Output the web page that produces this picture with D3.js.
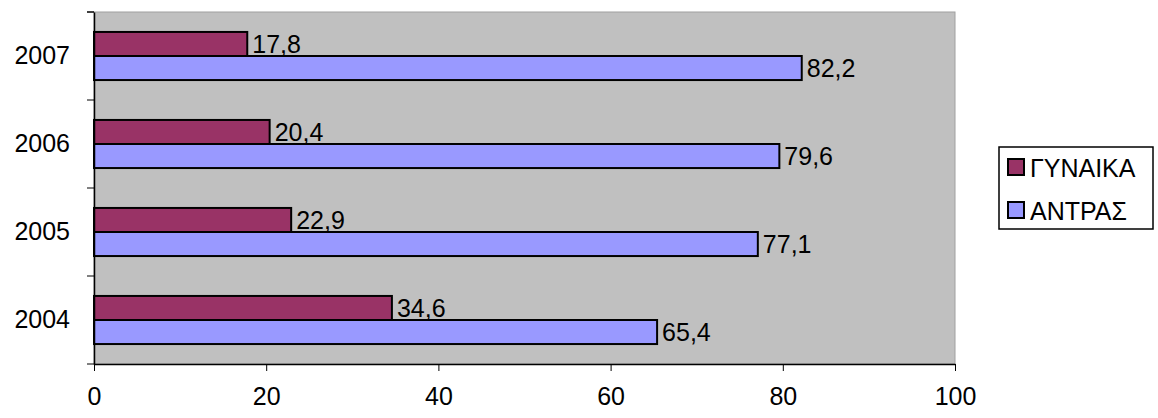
<!DOCTYPE html><html><head><meta charset="utf-8"><script src="https://cdn.jsdelivr.net/npm/d3@7"></script>
<style>body{margin:0;background:#fff}text{font-family:"Liberation Sans",Arial,sans-serif}</style></head><body><svg id="c" width="1158" height="418"></svg><script>
const years=["2004","2005","2006","2007"];
const women=[34.6,22.9,20.4,17.8];
const men=[65.4,77.1,79.6,82.2];
const xTicks=[0,20,40,60,80,100];
const series=[{name:"ΓΥΝΑΙΚΑ",vals:women,color:"#993366"},{name:"ΑΝΤΡΑΣ",vals:men,color:"#9999FF"}];
const svg=d3.select("#c");
const L=94,R=955,T=12,B=364;
const x=d3.scaleLinear().domain([0,100]).range([L,R]);
const y=d3.scaleBand().domain(years.slice().reverse()).range([T,B]);
svg.append("rect").attr("x",L).attr("y",T).attr("width",R-L).attr("height",B-T).attr("fill","#C0C0C0").attr("stroke","#A0A0A0");
const sub=d3.scaleBand().domain([0,1]).range([0,y.bandwidth()]).paddingOuter(0.83).paddingInner(0);
series.forEach((s,si)=>{
 years.forEach((yr,i)=>{
  const v=s.vals[i];
  svg.append("rect").attr("x",x(0)).attr("y",y(yr)+sub(si)).attr("width",x(v)-x(0)).attr("height",sub.bandwidth()).attr("fill",s.color).attr("stroke","#000").attr("stroke-width",2);
  svg.append("text").attr("x",x(v)+5).attr("y",y(yr)+sub(si)+sub.bandwidth()/2+9).style("font-size","25px").text(String(v).replace(".",","));
 });
});
const xa=svg.append("g").attr("transform",`translate(0,${B})`).call(d3.axisBottom(x).tickValues(xTicks).tickSize(7).tickSizeOuter(0).tickPadding(16));
xa.selectAll("text").style("font-size","25px").attr("fill","#000");
const ya=svg.append("g").attr("transform",`translate(${L},0)`).call(d3.axisLeft(y).tickSize(0).tickPadding(24));
ya.selectAll("text").style("font-size","25px").attr("fill","#000");
svg.selectAll(".domain").attr("stroke","#000").attr("stroke-width",1.5);
[T,...years.map(d=>y(d))].forEach(v=>svg.append("line").attr("x1",L-7).attr("x2",L).attr("y1",v).attr("y2",v).attr("stroke","#000"));
svg.append("line").attr("x1",L-7).attr("x2",L).attr("y1",B).attr("y2",B).attr("stroke","#000");
const lg=svg.append("g");
lg.append("rect").attr("x",999).attr("y",147).attr("width",154).attr("height",82).attr("fill","#fff").attr("stroke","#000").attr("stroke-width",1.5);
series.forEach((s,i)=>{
 const yy=159+i*43;
 lg.append("rect").attr("x",1008).attr("y",yy).attr("width",16).attr("height",16).attr("fill",s.color).attr("stroke","#000").attr("stroke-width",2);
 lg.append("text").attr("x",1030).attr("y",yy+18).style("font-size","25px").text(s.name);
});
</script></body></html>
